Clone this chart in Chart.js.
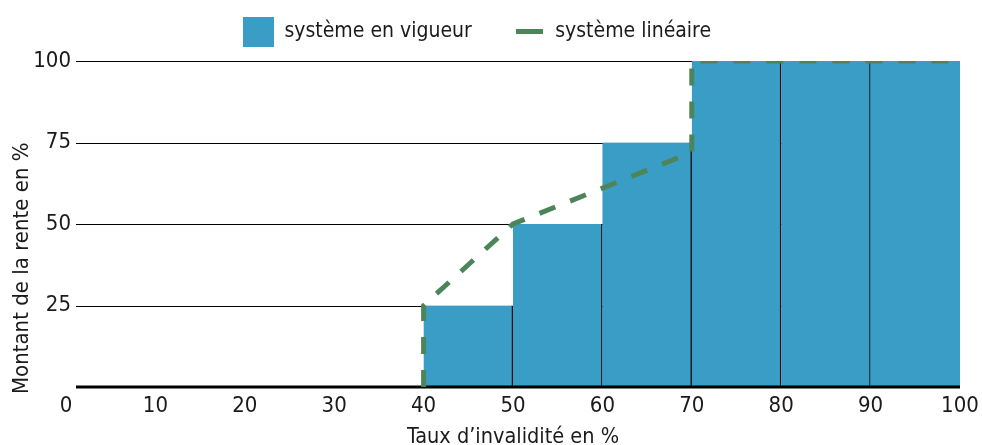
<!DOCTYPE html>
<html>
<head>
<meta charset="utf-8">
<script src="https://cdn.jsdelivr.net/npm/chart.js@4.4.0/dist/chart.umd.min.js"></script>
<style>
  html, body { margin: 0; padding: 0; background: #fff; overflow: hidden; }
</style>
</head>
<body>
<canvas id="rente" width="982" height="452"></canvas>
<script>
// Tranches de taux d'invalidité (début de tranche, en %) et largeur d'une tranche
const tranches = [40, 50, 60, 70, 80, 90];
const largeurTranche = 10;
// Système en vigueur : montant de la rente par tranche (%)
const renteEnVigueur = [25, 50, 75, 100, 100, 100];

// Système linéaire : points de la courbe (taux -> rente)
const lineaireTaux = [40, 40, 50, 70, 70, 100];
const lineaireRente = [0, 25, 50, 72, 100, 100];

// Graduations
const graduationsY = [25, 50, 75, 100];

const bleu = "#3a9dc6";
const vert = "#4c855a";
const texte = "#1a1a1a";
const police = "'DejaVu Sans Condensed', 'Liberation Sans Narrow', sans-serif";

// petite image pour les symboles de légende
function symbole(w, h, couleur) {
  const c = document.createElement("canvas");
  c.width = w;
  c.height = h;
  const g = c.getContext("2d");
  g.fillStyle = couleur;
  g.fillRect(0, 0, w, h);
  return c;
}

// Lignes horizontales + ligne de base épaisse
const grille = {
  id: "grille",
  afterLayout(chart) {
    // remonte la légende dans le bandeau du haut
    const leg = chart.legend;
    leg.top -= 21;
    leg.left -= 14;
    leg.right -= 14;
    // étiquettes de l'axe y un peu plus près des lignes, titre y plus bas
    const y = chart.scales.y;
    y.right += 6;
    y.bottom += 7;
  },
  beforeDatasetsDraw(chart) {
    const { ctx, chartArea, scales: { y } } = chart;
    ctx.save();
    ctx.strokeStyle = "#000";
    ctx.lineWidth = 1;
    graduationsY.forEach(v => {
      const py = Math.round(y.getPixelForValue(v)) + 0.5;
      ctx.beginPath();
      ctx.moveTo(chartArea.left + 10, py);
      ctx.lineTo(chartArea.right, py);
      ctx.stroke();
    });
    ctx.restore();
  },
  afterDatasetDraw(chart, args) {
    if (args.index !== 0) return;
    const { ctx, chartArea, scales: { y } } = chart;
    const py = y.getPixelForValue(0);
    ctx.save();
    ctx.strokeStyle = "#000";
    ctx.lineWidth = 3;
    ctx.beginPath();
    ctx.moveTo(chartArea.left + 10, py);
    ctx.lineTo(chartArea.right, py);
    ctx.stroke();
    ctx.restore();
  }
};

const ctx = document.getElementById("rente").getContext("2d");
new Chart(ctx, {
  type: "bar",
  data: {
    datasets: [
      {
        type: "bar",
        label: "système en vigueur",
        data: tranches.map((t, i) => ({ x: t + largeurTranche / 2, y: renteEnVigueur[i] })),
        backgroundColor: bleu,
        borderColor: "#111",
        borderWidth: c =>
          c.dataIndex === tranches.length - 1 ? 0 : { top: 0, right: 1.6, bottom: 0, left: 0 },
        borderSkipped: false,
        barPercentage: 1,
        categoryPercentage: 1,
        order: 2
      },
      {
        type: "line",
        label: "système linéaire",
        data: lineaireTaux.map((t, i) => ({ x: t, y: lineaireRente[i] })),
        borderColor: vert,
        borderWidth: 5,
        borderDash: [17, 16],
        pointRadius: 0,
        fill: false,
        tension: 0,
        order: 1
      }
    ]
  },
  options: {
    responsive: false,
    animation: false,
    devicePixelRatio: 1,
    layout: { padding: 0 },
    plugins: {
      tooltip: { enabled: false },
      legend: {
        position: "top",
        maxHeight: 61,
        labels: {
          usePointStyle: true,
          pointStyleWidth: 31,
          padding: 42,
          color: texte,
          font: { family: police, size: 21 },
          generateLabels: chart =>
            chart.data.datasets.map((ds, i) => ({
              text: ds.label,
              pointStyle: i === 0 ? symbole(31, 30, bleu) : symbole(27, 5, vert),
              fillStyle: i === 0 ? bleu : vert,
              strokeStyle: "transparent",
              lineWidth: 0,
              fontColor: texte,
              hidden: false,
              datasetIndex: i
            }))
        }
      }
    },
    scales: {
      x: {
        type: "linear",
        min: 0,
        max: 100,
        offset: false,
        grid: { display: false, drawTicks: false, offset: false },
        border: { display: false },
        ticks: {
          stepSize: 10,
          maxRotation: 0,
          padding: 6,
          color: texte,
          font: { family: police, size: 22 }
        },
        title: {
          display: true,
          text: "Taux d’invalidité en %",
          color: texte,
          font: { family: police, size: 21.5 },
          padding: { top: 0, bottom: 2 }
        },
        afterFit(s) {
          s.height = 65;
          s.paddingRight = 22;
        }
      },
      y: {
        min: 0,
        max: 100,
        grid: { display: false, drawTicks: false },
        border: { display: false },
        ticks: {
          stepSize: 25,
          padding: 1,
          color: texte,
          font: { family: police, size: 22 },
          callback: v => (v === 0 ? "" : v)
        },
        title: {
          display: true,
          text: "Montant de la rente en %",
          align: "start",
          color: texte,
          font: { family: police, size: 22 },
          padding: { top: 9, bottom: 0 }
        },
        afterFit(s) { s.width = 66; }
      }
    }
  },
  plugins: [grille]
});
</script>
</body>
</html>
